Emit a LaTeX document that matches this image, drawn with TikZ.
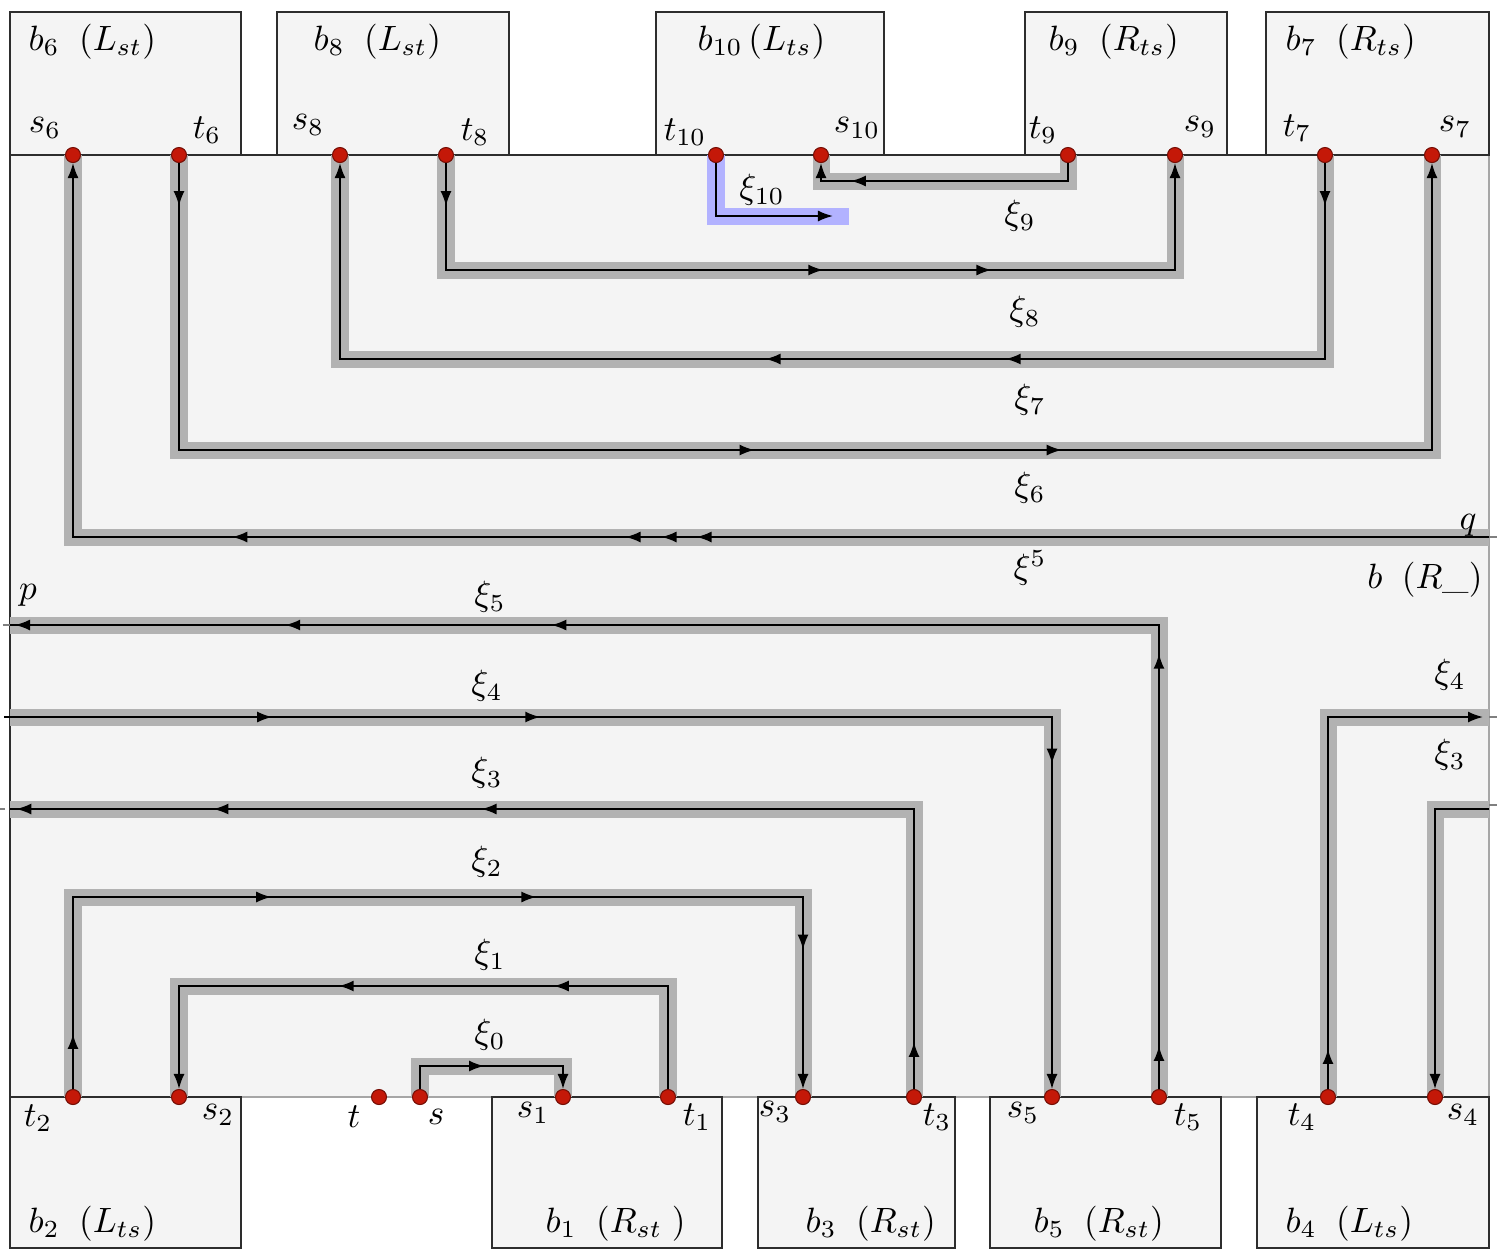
\documentclass[tikz,border=0pt]{standalone}
\usetikzlibrary{arrows.meta,decorations.markings,backgrounds,positioning}
\definecolor{bgray}{RGB}{244,244,244}
\definecolor{bandgray}{RGB}{178,178,178}
\definecolor{bandblue}{RGB}{178,178,255}
\definecolor{dotred}{RGB}{196,24,8}
\definecolor{darkline}{RGB}{45,45,45}
\tikzset{
	tip at/.style={postaction={decorate,decoration={markings,mark=at position #1 with {\arrow{>}}}}}
}
\begin{document}
\begin{tikzpicture}[
		x=0.01cm, y=-0.01cm,
		>={Latex[length=1.5mm,width=1.1mm]},
		dot/.style={circle,draw=dotred!60!black,fill=dotred,inner sep=0pt,minimum size=0.15cm,line width=0.3pt},
		box/.style={fill=bgray,draw=darkline,line width=0.5pt},
		band/.style={draw=bandgray,line width=0.17cm},
		xi/.style={draw=black,line width=0.5pt},
		lbl/.style={inner sep=0pt},
		tick/.style={draw=gray,line width=0.4pt}
	]
		\useasboundingbox (0,0) rectangle (1499,1250);

		% points on the top border
		\node[dot] (s6) at (73,155) {};
		\node[dot] (t6) at (179,155) {};
		\node[dot] (s8) at (340,155) {};
		\node[dot] (t8) at (446,155) {};
		\node[dot] (t10) at (716,155) {};
		\node[dot] (s10) at (821,155) {};
		\node[dot] (t9) at (1068,155) {};
		\node[dot] (s9) at (1175,155) {};
		\node[dot] (t7) at (1325,155) {};
		\node[dot] (s7) at (1432,155) {};
		% points on the bottom border
		\node[dot] (t2) at (73,1097) {};
		\node[dot] (s2) at (179,1097) {};
		\node[dot] (t) at (379,1097) {};
		\node[dot] (s) at (420,1097) {};
		\node[dot] (s1) at (563,1097) {};
		\node[dot] (t1) at (668,1097) {};
		\node[dot] (s3) at (803,1097) {};
		\node[dot] (t3) at (914,1097) {};
		\node[dot] (s5) at (1052,1097) {};
		\node[dot] (t5) at (1159,1097) {};
		\node[dot] (t4) at (1328,1097) {};
		\node[dot] (s4) at (1435,1097) {};

		% corners of the paths
		\coordinate (c0a) at (420,1066);
		\coordinate (c0b) at (563,1066);
		\coordinate (c1a) at (668,986);
		\coordinate (c1b) at (179,986);
		\coordinate (c2a) at (73,897);
		\coordinate (c2b) at (803,897);
		\coordinate (c3a) at (914,809);
		\coordinate (p3) at (10,809);
		\coordinate (q3) at (1489,809);
		\coordinate (c3b) at (1435,809);
		\coordinate (p4) at (10,717);
		\coordinate (c4a) at (1052,717);
		\coordinate (c4b) at (1328,717);
		\coordinate (q4) at (1483,717);
		\coordinate (q4e) at (1489,717);
		\coordinate (c5a) at (1159,625);
		\coordinate (p) at (10,625);
		\coordinate (q) at (1489,537);
		\coordinate (c5b) at (73,537);
		\coordinate (c6a) at (179,450);
		\coordinate (c6b) at (1432,450);
		\coordinate (c7a) at (1325,359);
		\coordinate (c7b) at (340,359);
		\coordinate (c8a) at (446,270);
		\coordinate (c8b) at (1175,270);
		\coordinate (c9a) at (1068,181);
		\coordinate (c9b) at (821,181);
		\coordinate (c10a) at (716,216);
		\coordinate (c10b) at (833,216);
		\coordinate (c10e) at (849,216);

		\begin{scope}[on background layer]
			\fill[bgray] (10,155) rectangle (1489,1097);
			\draw[gray!70,line width=0.5pt] (1489,155) -- (1489,1097) -- (10,1097);
			\draw[darkline,line width=0.5pt] (10,1097) -- (10,155) -- (1489,155);
			\draw[box] (10,12) rectangle (241,155);
			\draw[box] (277,12) rectangle (509,155);
			\draw[box] (656,12) rectangle (884,155);
			\draw[box] (1025,12) rectangle (1227,155);
			\draw[box] (1266,12) rectangle (1489,155);
			\draw[box] (10,1097) rectangle (241,1248);
			\draw[box] (492,1097) rectangle (722,1248);
			\draw[box] (758,1097) rectangle (955,1248);
			\draw[box] (990,1097) rectangle (1221,1248);
			\draw[box] (1257,1097) rectangle (1489,1248);
			\draw[tick] (3,625) -- (10,625);
			\draw[tick] (0,809) -- (5,809);
			\draw[tick] (1489,537) -- (1497,537);
			\draw[tick] (1489,717) -- (1497,717);
			\draw[tick] (1489,805) -- (1497,805);

			\draw[band] (s.center) -- (c0a) -- (c0b) -- (s1.center);
			\draw[band] (t1.center) -- (c1a) -- (c1b) -- (s2.center);
			\draw[band] (t2.center) -- (c2a) -- (c2b) -- (s3.center);
			\draw[band] (t3.center) -- (c3a) -- (p3);
			\draw[band] (q3) -- (c3b) -- (s4.center);
			\draw[band] (p4) -- (c4a) -- (s5.center);
			\draw[band] (t4.center) -- (c4b) -- (q4e);
			\draw[band] (t5.center) -- (c5a) -- (p);
			\draw[band] (q) -- (c5b) -- (s6.center);
			\draw[band] (t6.center) -- (c6a) -- (c6b) -- (s7.center);
			\draw[band] (t7.center) -- (c7a) -- (c7b) -- (s8.center);
			\draw[band] (t8.center) -- (c8a) -- (c8b) -- (s9.center);
			\draw[band] (t9.center) -- (c9a) -- (c9b) -- (s10.center);
			\draw[band,draw=bandblue] (t10.center) -- (c10a) -- (c10e);
		\end{scope}

		\draw[xi,->,tip at=0.87cm] (s) -- (c0a) -- (c0b) -- (s1);
		\draw[xi,->,tip at=2.17cm,tip at=4.32cm] (t1) -- (c1a) -- (c1b) -- (s2);
		\draw[xi,->,tip at=0.55cm,tip at=3.90cm,tip at=6.55cm,tip at=9.74cm] (t2) -- (c2a) -- (c2b) -- (s3);
		\draw[xi,tip at=0.47cm,tip at=7.12cm,tip at=9.80cm,tip at=11.77cm] (t3) -- (c3a) -- (p3);
		\draw[xi,->] (q3) -- (c3b) -- (s4);
		\draw[xi] (4,717) -- (p4);
		\draw[xi,->,tip at=2.62cm,tip at=5.30cm,tip at=10.88cm] (p4) -- (c4a) -- (s5);
		\draw[xi,->,tip at=0.40cm] (t4) -- (c4b) -- (q4);
		\draw[xi,tip at=0.43cm,tip at=4.35cm,tip at=10.71cm,tip at=13.37cm,tip at=16.07cm] (t5) -- (c5a) -- (p);
		\draw[xi,->,tip at=7.92cm,tip at=8.27cm,tip at=8.63cm,tip at=12.56cm] (q) -- (c5b) -- (s6);
		\draw[xi,->,tip at=0.43cm,tip at=8.62cm,tip at=11.69cm] (t6) -- (c6a) -- (c6b) -- (s7);
		\draw[xi,->,tip at=0.43cm,tip at=5.15cm,tip at=7.55cm] (t7) -- (c7a) -- (c7b) -- (s8);
		\draw[xi,->,tip at=0.43cm,tip at=4.84cm,tip at=6.52cm] (t8) -- (c8a) -- (c8b) -- (s9);
		\draw[xi,->,tip at=2.35cm] (t9) -- (c9a) -- (c9b) -- (s10);
		\draw[xi,->] (t10) -- (c10a) -- (c10b);

		% names of the blocks
		\node[lbl,anchor=base west] (tb6) at (28,50) {$b_6\;\;(L_{st})$};
		\node[lbl,anchor=base west] (tb8) at (313,50) {$b_8\;\;(L_{st})$};
		\node[lbl,anchor=base west] (tb10) at (697,50) {$b_{10}\,(L_{ts})$};
		\node[lbl,anchor=base west] (tb9) at (1048,50) {$b_9\;\;(R_{ts})$};
		\node[lbl,anchor=base west] (tb7) at (1285,50) {$b_7\;\;(R_{ts})$};
		\node[lbl,anchor=base west] (tb2) at (28,1232) {$b_2\;\;(L_{ts})$};
		\node[lbl,anchor=base west] (tb1) at (545,1232) {$b_1\;\;(R_{st}\;)$};
		\node[lbl,anchor=base west] (tb3) at (805,1232) {$b_3\;\;(R_{st})$};
		\node[lbl,anchor=base west] (tb5) at (1033,1232) {$b_5\;\;(R_{st})$};
		\node[lbl,anchor=base west] (tb4) at (1285,1232) {$b_4\;\;(L_{ts})$};
		\node[lbl] (tb) at (1425,580) {$b\;\;(R\_)$};

		% names of the points
		\node[lbl] (ls6) at (45,128) {$s_6$};
		\node[lbl] (lt6) at (207,130) {$t_6$};
		\node[lbl] (ls8) at (308,125) {$s_8$};
		\node[lbl] (lt8) at (475,132) {$t_8$};
		\node[lbl] (lt10) at (685,132) {$t_{10}$};
		\node[lbl] (ls10) at (857,128) {$s_{10}$};
		\node[lbl] (lt9) at (1043,130) {$t_9$};
		\node[lbl] (ls9) at (1200,127) {$s_9$};
		\node[lbl] (lt7) at (1297,128) {$t_7$};
		\node[lbl] (ls7) at (1455,127) {$s_7$};
		\node[lbl] (lt2) at (38,1118) {$t_2$};
		\node[lbl] (ls2) at (218,1115) {$s_2$};
		\node[lbl] (lt) at (354,1117) {$t$};
		\node[lbl] (ls) at (436,1117) {$s$};
		\node[lbl] (ls1) at (533,1113) {$s_1$};
		\node[lbl] (lt1) at (697,1117) {$t_1$};
		\node[lbl] (ls3) at (775,1112) {$s_3$};
		\node[lbl] (lt3) at (937,1117) {$t_3$};
		\node[lbl] (ls5) at (1023,1113) {$s_5$};
		\node[lbl] (lt5) at (1188,1117) {$t_5$};
		\node[lbl] (lt4) at (1302,1117) {$t_4$};
		\node[lbl] (ls4) at (1463,1115) {$s_4$};
		\node[lbl] (lp) at (28,595) {$p$};
		\node[lbl] (lq) at (1468,525) {$q$};

		% names of the paths
		\node[lbl] (x0) at (490,1035) {$\xi_0$};
		\node[lbl] (x1) at (490,955) {$\xi_1$};
		\node[lbl] (x2) at (487,862) {$\xi_2$};
		\node[lbl] (x3) at (487,773) {$\xi_3$};
		\node[lbl] (x4) at (487,686) {$\xi_4$};
		\node[lbl] (x5) at (490,597) {$\xi_5$};
		\node[lbl] (x5b) at (1030,568) {$\xi^5$};
		\node[lbl] (x6) at (1030,488) {$\xi_6$};
		\node[lbl] (x7) at (1030,400) {$\xi_7$};
		\node[lbl] (x8) at (1025,312) {$\xi_8$};
		\node[lbl] (x9) at (1020,216) {$\xi_9$};
		\node[lbl] (x10) at (762,190) {$\xi_{10}$};
		\node[lbl] (x4r) at (1450,675) {$\xi_4$};
		\node[lbl] (x3r) at (1450,755) {$\xi_3$};
	\end{tikzpicture}
\end{document}
